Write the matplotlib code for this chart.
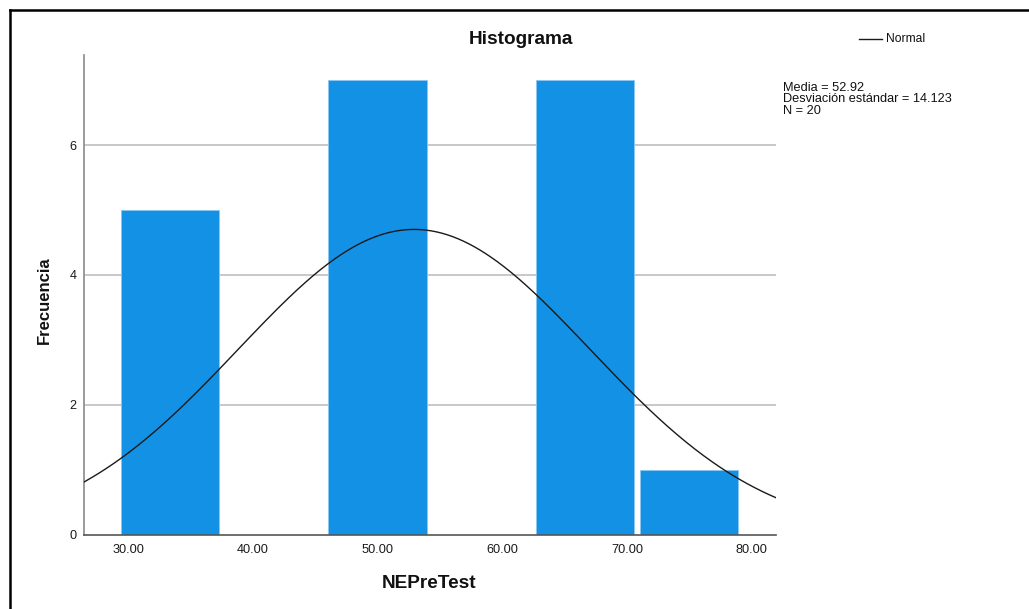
import numpy as np
import matplotlib
matplotlib.use("Agg")
import matplotlib.pyplot as plt
from matplotlib.lines import Line2D

plt.rcParams['font.family'] = ['Liberation Sans', 'DejaVu Sans']

# Data
first_edge = 29.41
bin_width = 8.32
counts = [5, 0, 7, 0, 7, 1]
mean = 52.92
std = 14.123
n = 20
x_ticks = [30, 40, 50, 60, 70, 80]
y_ticks = [0, 2, 4, 6]

fig = plt.figure(figsize=(10.29, 6.09), dpi=100)
ax = fig.add_axes([0.0812, 0.122, 0.6727, 0.7877])

edges = first_edge + bin_width * np.arange(len(counts))
ax.bar(edges, counts, width=bin_width * 0.947, align='edge',
       color='#1391E5', edgecolor='#8cc8f2', linewidth=0.6, zorder=2)

xs = np.linspace(26.0, 82.5, 400)
pdf = n * bin_width * np.exp(-0.5 * ((xs - mean) / std) ** 2) / (std * np.sqrt(2 * np.pi))
ax.plot(xs, pdf, color='#1a1a1a', linewidth=1.0, zorder=3)

ax.set_xlim(26.41, 81.925)
ax.set_ylim(0, 7.386)
ax.set_xticks(x_ticks)
ax.set_xticklabels([f"{v:.2f}" for v in x_ticks])
ax.set_yticks(y_ticks)
ax.tick_params(axis='both', length=0, labelsize=9.2, colors='#1a1a1a')
ax.tick_params(axis='x', pad=7)
ax.tick_params(axis='y', pad=5)

for y in y_ticks[1:]:
    ax.axhline(y, color='#c8c8c8', linewidth=1.4, zorder=1)

for s in ['top', 'right']:
    ax.spines[s].set_visible(False)
ax.spines['left'].set_color('#8a8a8a')
ax.spines['left'].set_linewidth(1.2)
ax.spines['bottom'].set_color('#555555')
ax.spines['bottom'].set_linewidth(1.2)

W, H = 1029, 609
def fx(px): return px / W
def fy(py): return 1 - py / H

fig.text(fx(521), fy(40), 'Histograma', fontsize=13.7, fontweight='bold',
         ha='center', va='center', color='#111111')
fig.text(fx(429), fy(584), 'NEPreTest', fontsize=13.7, fontweight='bold',
         ha='center', va='center', color='#111111')
fig.text(fx(44), fy(300), 'Frecuencia', fontsize=12, fontweight='bold',
         rotation=90, ha='center', va='center', color='#111111')

# Legend
fig.add_artist(Line2D([fx(859), fx(882)], [fy(39), fy(39)], color='#1a1a1a', linewidth=1.0))
fig.text(fx(886), fy(39.5), 'Normal', fontsize=8.7, ha='left', va='center', color='#111111')

# Stats
stats = [f"Media = {mean:.2f}", f"Desviación estándar = {std:.3f}", f"N = {n}"]
for i, s in enumerate(stats):
    fig.text(fx(783), fy(88 + 11.3 * i), s, fontsize=9.2, ha='left', va='center', color='#111111')

# Frame border
fig.add_artist(Line2D([fx(9.5), fx(9.5)], [fy(9.5), 0], color='black', linewidth=1.8))
fig.add_artist(Line2D([fx(9.5), 1], [fy(9.5), fy(9.5)], color='black', linewidth=1.8))

fig.savefig('out.png', dpi=100)
